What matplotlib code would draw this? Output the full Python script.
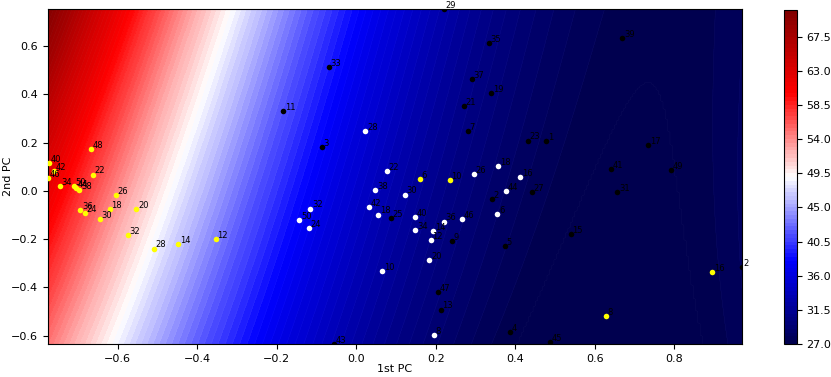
import numpy as np
import matplotlib
matplotlib.use('Agg')
import matplotlib.pyplot as plt

# points in PC space: (1st PC, 2nd PC, label)
yellow_x = [-0.668, -0.772, -0.760, -0.775, -0.662, -0.745, -0.709, -0.704, -0.696, -0.605,
            -0.694, -0.682, -0.620, -0.553, -0.644, -0.574, -0.508, -0.448, -0.353,
            0.160, 0.235, 0.628, 0.896]
yellow_y = [0.174, 0.115, 0.082, 0.053, 0.068, 0.021, 0.021, 0.011, 0.003, -0.018,
            -0.080, -0.093, -0.076, -0.076, -0.115, -0.181, -0.239, -0.219, -0.198,
            0.050, 0.047, -0.519, -0.336]
yellow_lbl = ['48', '40', '42', '46', '22', '34', '50', '44', '38', '26',
              '36', '24', '18', '20', '30', '32', '28', '14', '12',
              '6', '10', '8', '16']

white_x = [-0.115, -0.143, -0.119, 0.023, 0.077, 0.048, 0.122, 0.033, 0.056, 0.148,
           0.149, 0.194, 0.187, 0.221, 0.267, 0.184, 0.066, 0.196,
           0.357, 0.296, 0.413, 0.376, 0.355]
white_y = [-0.073, -0.122, -0.155, 0.249, 0.082, 0.003, -0.015, -0.065, -0.098, -0.107,
           -0.163, -0.166, -0.205, -0.127, -0.118, -0.288, -0.331, -0.599,
           0.105, 0.072, 0.058, -0.001, -0.094]
white_lbl = ['32', '50', '24', '28', '22', '38', '30', '42', '18', '40',
             '34', '14', '12', '36', '46', '20', '10', '8',
             '18', '26', '16', '44', '6']

black_x = [0.220, -0.069, -0.184, -0.086, 0.333, 0.291, 0.339, 0.271, 0.281, 0.431,
           0.478, 0.734, 0.669, 0.641, 0.792, 0.657, 0.341, 0.442, 0.540, 0.240,
           0.374, 0.205, 0.213, 0.087, -0.055, 0.387, 0.488, 0.970]
black_y = [0.755, 0.513, 0.333, 0.181, 0.615, 0.463, 0.405, 0.353, 0.249, 0.209,
           0.205, 0.191, 0.636, 0.091, 0.087, -0.003, -0.033, -0.005, -0.177, -0.209,
           -0.227, -0.418, -0.492, -0.111, -0.635, -0.584, -0.628, -0.317]
black_lbl = ['29', '33', '11', '3', '35', '37', '19', '21', '7', '23',
             '1', '17', '39', '41', '49', '31', '2', '27', '15', '9',
             '5', '47', '13', '25', '43', '4', '45', '2']

surf_cols = [-0.775, -0.6, -0.45, -0.3, -0.15, 0.0, 0.2, 0.45, 0.7, 0.97]
surf_rows = [0.75, 0.35, 0.0, -0.3, -0.63]
surf_vals = [
    [69.5, 62.5, 56.0, 49.5, 43.0, 36.5, 31.5, 29.3, 28.3, 27.8],
    [64.0, 57.8, 52.4, 46.6, 40.2, 34.5, 30.8, 28.9, 28.0, 27.6],
    [60.5, 55.0, 50.1, 44.4, 38.0, 33.8, 30.3, 28.6, 27.8, 27.4],
    [57.5, 52.4, 46.7, 41.1, 36.0, 32.5, 29.5, 28.0, 27.4, 27.1],
    [55.5, 49.2, 43.8, 38.0, 34.5, 31.8, 29.3, 27.8, 27.3, 27.0],
]

levels = np.arange(27, 71.5, 0.5)


def poly_terms(x, y, deg=3):
    return np.column_stack([x**i * y**j for i in range(deg + 1) for j in range(deg + 1 - i)])


# cubic response surface fitted to the readings
sx, sy = np.meshgrid(surf_cols, surf_rows)
coef = np.linalg.lstsq(poly_terms(sx.ravel(), sy.ravel()), np.ravel(surf_vals), rcond=None)[0]

all_x = np.array(yellow_x + white_x + black_x)
all_y = np.array(yellow_y + white_y + black_y)
gx, gy = np.meshgrid(np.linspace(all_x.min(), all_x.max(), 300),
                     np.linspace(all_y.min(), all_y.max(), 300))
gz = (poly_terms(gx.ravel(), gy.ravel()) @ coef).reshape(gx.shape)
gz = np.clip(gz, levels[0], levels[-1])

fig = plt.figure(figsize=(8.31, 3.77), dpi=100)
ax = fig.add_axes([0.0578, 0.0875, 0.835, 0.889])
cax = fig.add_axes([0.943, 0.0875, 0.0156, 0.886])

cs = ax.contourf(gx, gy, gz, levels=levels, cmap='seismic')
ax.contour(gx, gy, gz, levels=levels, colors='white', linewidths=0.3, alpha=0.06)

groups = [(yellow_x, yellow_y, yellow_lbl, 'yellow'),
          (white_x, white_y, white_lbl, 'white'),
          (black_x, black_y, black_lbl, 'black')]
for xs, ys, lbls, c in groups:
    ax.scatter(xs, ys, s=16, c=c, linewidths=0, zorder=3)
    for x, y, t in zip(xs, ys, lbls):
        ax.text(x + 0.004, y - 0.004, t, fontsize=6, ha='left', va='bottom', zorder=4)

ax.set_xlim(all_x.min(), all_x.max())
ax.set_ylim(all_y.min(), all_y.max())
ax.set_xlabel("1st PC", fontsize=8)
ax.set_ylabel("2nd PC", fontsize=8)
ax.xaxis.set_label_coords(0.5, -0.06)
ax.yaxis.set_label_coords(-0.05, 0.5)
ax.tick_params(labelsize=8)

cb = fig.colorbar(cs, cax=cax)
cb.ax.tick_params(labelsize=8)

plt.savefig("out.png")
